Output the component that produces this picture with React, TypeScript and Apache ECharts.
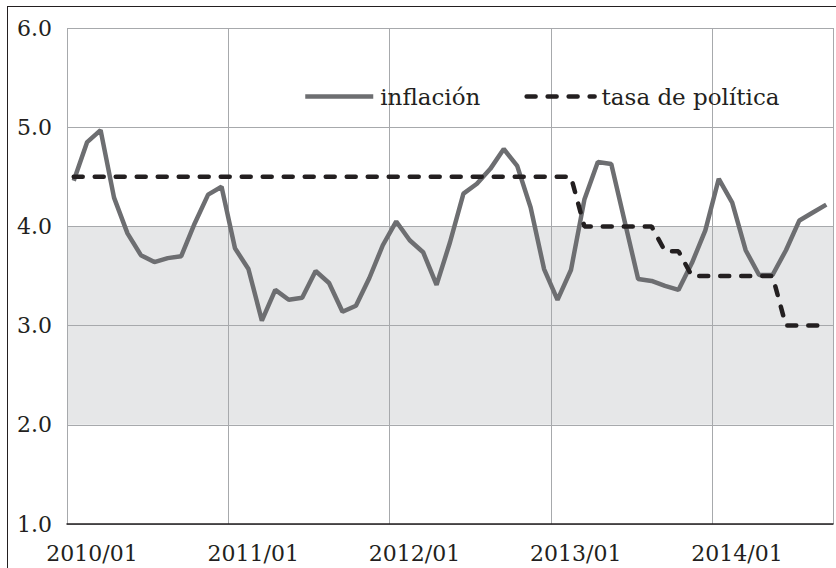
import React, { useEffect, useRef } from "react";
import * as echarts from "echarts";

const yearLabels = ["2010/01", "2011/01", "2012/01", "2013/01", "2014/01"];

const inflacion = [
  4.46, 4.85, 4.97, 4.29, 3.93, 3.71, 3.64, 3.68, 3.70, 4.03, 4.32, 4.40,
  3.78, 3.57, 3.05, 3.36, 3.26, 3.28, 3.55, 3.43, 3.14, 3.20, 3.48, 3.81,
  4.05, 3.86, 3.74, 3.41, 3.84, 4.33, 4.43, 4.58, 4.78, 4.61, 4.19, 3.57,
  3.26, 3.56, 4.27, 4.65, 4.63, 4.05, 3.47, 3.45, 3.40, 3.36, 3.63, 3.96,
  4.48, 4.24, 3.76, 3.51, 3.51, 3.76, 4.06, 4.14, 4.22,
];

const tasaPolitica = [
  4.5, 4.5, 4.5, 4.5, 4.5, 4.5, 4.5, 4.5, 4.5, 4.5, 4.5, 4.5,
  4.5, 4.5, 4.5, 4.5, 4.5, 4.5, 4.5, 4.5, 4.5, 4.5, 4.5, 4.5,
  4.5, 4.5, 4.5, 4.5, 4.5, 4.5, 4.5, 4.5, 4.5, 4.5, 4.5, 4.5,
  4.5, 4.5, 4.0, 4.0, 4.0, 4.0, 4.0, 4.0, 3.75, 3.75, 3.5, 3.5,
  3.5, 3.5, 3.5, 3.5, 3.5, 3.0, 3.0, 3.0, 3.0,
];

const seriesNames = ["inflación", "tasa de política"];
const bandLow = 2.0;
const bandHigh = 4.0;

const TEXT = "#231f20";
const GRAY = "#6d6e71";
const FONT = "DejaVu Serif";

export default function App() {
  const ref = useRef<HTMLDivElement>(null);

  useEffect(() => {
    if (!ref.current) return;
    const chart = echarts.init(ref.current, null, { renderer: "svg" });
    const yMin = 1;
    const yMax = 6;
    const bandColors: string[] = [];
    for (let v = yMin; v < yMax; v++) {
      bandColors.push(v >= bandLow && v < bandHigh ? "#e6e7e8" : "rgba(0,0,0,0)");
    }
    const option: any = {
      animation: false,
      textStyle: { fontFamily: FONT, color: TEXT },
      grid: { left: 67, top: 28, right: -2, bottom: 44 },
      legend: {
        left: 298,
        top: 80,
        itemWidth: 68,
        itemHeight: 14,
        itemGap: 44,
        itemStyle: { opacity: 0 },
        data: [
          { name: seriesNames[0], lineStyle: { width: 4.5, color: GRAY } },
          { name: seriesNames[1], lineStyle: { width: 4.5, color: TEXT } },
        ],
        textStyle: { fontFamily: FONT, fontSize: 23, color: TEXT, padding: [0, 0, 0, 2] },
      },
      xAxis: {
        type: "value",
        min: 0,
        max: inflacion.length,
        interval: 12,
        axisLine: { show: true, lineStyle: { color: TEXT, width: 1.5 } },
        axisTick: { show: false },
        splitLine: { show: true, lineStyle: { color: "#a7a9ac", width: 1 } },
        axisLabel: {
          formatter: (v: number) => (v % 12 === 0 && yearLabels[v / 12]) ? yearLabels[v / 12] : "",
          fontFamily: FONT,
          fontSize: 22,
          color: TEXT,
          margin: 18,
          padding: [0, 0, 0, 50],
        },
      },
      yAxis: {
        type: "value",
        min: yMin,
        max: yMax,
        interval: 1,
        axisLine: { show: false },
        axisTick: { show: false },
        splitLine: { show: true, lineStyle: { color: "#a7a9ac", width: 1 } },
        splitArea: { show: true, areaStyle: { color: bandColors } },
        axisLabel: {
          formatter: (v: number) => v.toFixed(1),
          fontFamily: FONT,
          fontSize: 22,
          color: TEXT,
          margin: 15,
        },
      },
      series: [
        {
          name: seriesNames[0],
          type: "line",
          symbol: "none",
          data: inflacion.map((v, i) => [i + 0.5, v]),
          lineStyle: { color: GRAY, width: 4.5 },
          itemStyle: { color: GRAY },
        },
        {
          name: seriesNames[1],
          type: "line",
          symbol: "none",
          data: tasaPolitica.map((v, i) => [i + 0.5, v]),
          lineStyle: { color: TEXT, width: 4.5, type: [9, 12], cap: "round" },
          itemStyle: { color: TEXT },
        },
      ],
      graphic: [
        { type: "line", shape: { x1: 7, y1: 6.5, x2: 836, y2: 6.5 }, style: { stroke: TEXT, lineWidth: 1 } },
        { type: "line", shape: { x1: 7.5, y1: 6, x2: 7.5, y2: 568 }, style: { stroke: TEXT, lineWidth: 1 } },
      ],
    };
    chart.setOption(option);
    return () => chart.dispose();
  }, []);

  return (
    <div
      ref={ref}
      style={{ position: "fixed", left: 0, top: 0, width: 836, height: 568, background: "#fff" }}
    />
  );
}
